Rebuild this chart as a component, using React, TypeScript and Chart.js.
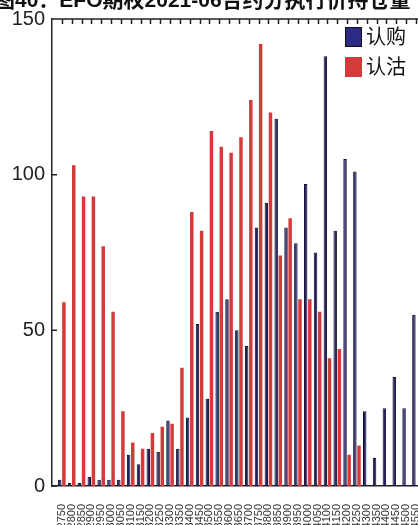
import React, { useEffect, useRef } from 'react';
import { Chart, registerables } from 'chart.js';

Chart.register(...registerables);

const titleText = '图40：EFO期权2021-06合约分执行价持仓量';
const strikes = [
  '2750', '2800', '2850', '2900', '2950', '3000', '3050', '3100', '3150', '3200',
  '3250', '3300', '3350', '3400', '3450', '3500', '3550', '3600', '3650', '3700',
  '3750', '3800', '3850', '3900', '3950', '4000', '4050', '4100', '4150', '4200',
  '4250', '4300', '4350', '4400', '4450', '4500', '4550',
];
const callOI = [
  2, 1, 1, 3, 2, 2, 2, 10, 7, 12,
  11, 21, 12, 22, 52, 28, 56, 60, 50, 45,
  83, 91, 118, 83, 78, 97, 75, 138, 82, 105,
  101, 24, 9, 25, 35, 25, 55,
];
const putOI = [
  59, 103, 93, 93, 77, 56, 24, 14, 12, 17,
  19, 20, 38, 88, 82, 114, 109, 107, 112, 124,
  142, 120, 74, 86, 60, 60, 56, 41, 44, 10,
  13, 0, 0, 0, 0, 0, 0,
];
const seriesNames = ['认购', '认沽'];
const yTicks = [0, 50, 100, 150];

const BLUE = '#2d2a85';
const BLUE_BAR = '#232068';
const RED = '#d43a3a';
const AXIS = '#222222';
const FONT = "'Liberation Sans', Arial, 'Noto Sans CJK SC', sans-serif";

const labels = ['', ...strikes, ''];
const pad = (arr: number[]) => [null, ...arr, null];

const decor = {
  id: 'decor',
  afterDraw(chart: any) {
    const { ctx, chartArea: a, scales } = chart;
    const x = scales.x;
    const y = scales.y;
    ctx.save();
    ctx.strokeStyle = AXIS;
    ctx.lineWidth = 1.5;
    ctx.beginPath();
    ctx.moveTo(a.left, a.top);
    ctx.lineTo(a.right, a.top);
    labels.forEach((l, i) => {
      if (!l) return;
      const px = Math.round(x.getPixelForTick(i)) + 0.5;
      ctx.moveTo(px, a.top);
      ctx.lineTo(px, a.top + 5);
    });
    yTicks.forEach((v) => {
      const py = y.getPixelForValue(v);
      ctx.moveTo(a.left, py);
      ctx.lineTo(a.left + 5, py);
    });
    ctx.stroke();

    // title (cut by the top edge)
    ctx.fillStyle = '#111';
    ctx.font = `bold 21px ${FONT}`;
    ctx.textBaseline = 'alphabetic';
    ctx.textAlign = 'left';
    ctx.fillText(titleText, -6, 7);

    // legend
    const colors = [BLUE, RED];
    ctx.font = `20px ${FONT}`;
    ctx.textBaseline = 'middle';
    seriesNames.forEach((n, i) => {
      const by = 27 + i * 30;
      ctx.fillStyle = colors[i];
      ctx.fillRect(345, by, 17, 20);
      if (i === 0) {
        ctx.lineWidth = 1;
        ctx.strokeStyle = '#111';
        ctx.strokeRect(345.5, by + 0.5, 16, 19);
      }
      ctx.fillStyle = '#111';
      ctx.fillText(n, 366, by + 11);
    });
    ctx.restore();
  },
};

export default function App() {
  const ref = useRef<HTMLCanvasElement>(null);
  useEffect(() => {
    if (!ref.current) return;
    const chart = new Chart(ref.current, {
      type: 'bar',
      data: {
        labels,
        datasets: [
          {
            label: seriesNames[0],
            data: pad(callOI),
            backgroundColor: BLUE_BAR,
            borderColor: '#0e0e24',
            borderWidth: 1,
            categoryPercentage: 0.84,
            barPercentage: 0.84,
          },
          {
            label: seriesNames[1],
            data: pad(putOI),
            backgroundColor: RED,
            borderWidth: 0,
            categoryPercentage: 0.84,
            barPercentage: 0.84,
          },
        ],
      },
      options: {
        responsive: false,
        animation: false,
        layout: { padding: { top: 13, right: 0, left: 0, bottom: 0 } },
        plugins: {
          legend: { display: false },
          title: { display: false },
          tooltip: { enabled: false },
        },
        scales: {
          x: {
            type: 'category',
            offset: false,
            grid: { display: false, drawTicks: false, offset: false },
            border: { display: true, color: AXIS, width: 1.5 },
            ticks: {
              autoSkip: false,
              maxRotation: 90,
              minRotation: 90,
              padding: 18,
              color: '#333',
              font: { family: FONT, size: 11 },
            },
            afterFit: (s: any) => {
              s.height = 39;
            },
          },
          y: {
            min: 0,
            max: 150,
            grid: { display: false, drawTicks: false },
            border: { display: true, color: AXIS, width: 1.5 },
            afterBuildTicks: (s: any) => {
              s.ticks = yTicks.map((v) => ({ value: v }));
            },
            ticks: {
              padding: 7,
              color: '#222',
              font: { family: FONT, size: 20 },
            },
            afterFit: (s: any) => {
              s.width = 52;
            },
          },
        },
      },
      plugins: [decor],
    });
    return () => chart.destroy();
  }, []);
  return (
    <div
      style={{
        position: 'fixed',
        left: 0,
        top: 0,
        width: 418,
        height: 525,
        overflow: 'hidden',
        background: '#fff',
      }}
    >
      <canvas ref={ref} width={457} height={525} style={{ display: 'block' }} />
    </div>
  );
}
